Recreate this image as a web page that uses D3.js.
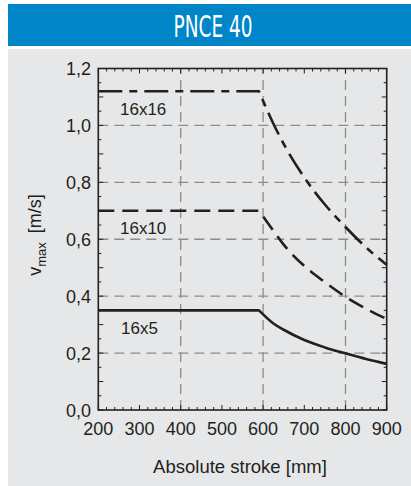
<!DOCTYPE html>
<html><head><meta charset="utf-8">
<script src="https://cdn.jsdelivr.net/npm/d3@7"></script>
<style>html,body{margin:0;padding:0;background:#fff;}svg{display:block;}</style>
</head><body>
<script>
const title = "PNCE 40";
const xLabel = "Absolute stroke [mm]";
const strokes = [200, 590, 625, 650, 700, 750, 800, 850, 900];
const v16x16 = [1.12, 1.12, 1.006, 0.935, 0.817, 0.722, 0.643, 0.571, 0.510];
const v16x10 = [0.70, 0.70, 0.630, 0.581, 0.506, 0.449, 0.398, 0.356, 0.320];
const v16x5  = [0.35, 0.35, 0.304, 0.282, 0.246, 0.220, 0.199, 0.179, 0.162];
const seriesNames = ["16x16", "16x10", "16x5"];
const xTicks = [200, 300, 400, 500, 600, 700, 800, 900];
const yTicks = [0, 0.2, 0.4, 0.6, 0.8, 1.0, 1.2];
const xGrid = [400, 600, 800];
const yGrid = [0.2, 0.4, 0.6, 0.8, 1.0];

const W = 411, H = 486;
const svg = d3.select("body").append("svg").attr("width", W).attr("height", H);
const ink = "#231f20";

svg.append("rect").attr("x", 8).attr("y", 4).attr("width", W - 8).attr("height", 42).attr("fill", "#0085c8");
svg.append("rect").attr("x", 8).attr("y", 49).attr("width", W - 8).attr("height", H - 49).attr("fill", "#e6e7e8");
svg.append("text").attr("x", 213).attr("y", 37).attr("text-anchor", "middle")
  .attr("fill", "#fff").attr("font-family", "'Liberation Sans Narrow','DejaVu Sans Condensed',sans-serif")
  .attr("font-stretch", "condensed").attr("font-size", 30)
  .attr("textLength", 79).attr("lengthAdjust", "spacingAndGlyphs").text(title);

const x = d3.scaleLinear().domain([200, 900]).range([98.3, 386.7]);
const y = d3.scaleLinear().domain([0, 1.2]).range([410, 68.5]);

const g = svg.append("g");
// grid
g.selectAll(".gx").data(xGrid).join("line")
  .attr("x1", d => x(d)).attr("x2", d => x(d)).attr("y1", y(0)).attr("y2", y(1.2))
  .attr("stroke", "#8c8c8c").attr("stroke-width", 1.3).attr("stroke-dasharray", "10,6");
g.selectAll(".gy").data(yGrid).join("line")
  .attr("y1", d => y(d)).attr("y2", d => y(d)).attr("x1", x(200)).attr("x2", x(900))
  .attr("stroke", "#8c8c8c").attr("stroke-width", 1.3).attr("stroke-dasharray", "10,6");

// minor/major ticks inside
const xMinor = d3.range(200, 901, 20);
const yMinor = d3.range(0, 1.2001, 0.05);
function tickLen(isMajor) { return isMajor ? 5 : 3; }
xMinor.forEach(v => {
  const major = Math.abs(v % 100) < 1e-6;
  const L = tickLen(major);
  g.append("line").attr("x1", x(v)).attr("x2", x(v)).attr("y1", y(0)).attr("y2", y(0) - L).attr("stroke", ink).attr("stroke-width", 1);
  g.append("line").attr("x1", x(v)).attr("x2", x(v)).attr("y1", y(1.2)).attr("y2", y(1.2) + L).attr("stroke", ink).attr("stroke-width", 1);
});
yMinor.forEach(v => {
  const major = Math.abs(Math.round(v * 10) - v * 10) < 1e-6;
  const L = tickLen(major);
  g.append("line").attr("y1", y(v)).attr("y2", y(v)).attr("x1", x(200)).attr("x2", x(200) + L).attr("stroke", ink).attr("stroke-width", 1);
  g.append("line").attr("y1", y(v)).attr("y2", y(v)).attr("x1", x(900)).attr("x2", x(900) - L).attr("stroke", ink).attr("stroke-width", 1);
});

// frame
g.append("rect").attr("x", x(200)).attr("y", y(1.2)).attr("width", x(900) - x(200)).attr("height", y(0) - y(1.2))
  .attr("fill", "none").attr("stroke", ink).attr("stroke-width", 1.6);

// tick labels
const fmt = d => d.toFixed(1).replace(".", ",");
g.selectAll(".xl").data(xTicks).join("text")
  .attr("x", d => x(d)).attr("y", 435).attr("text-anchor", "middle")
  .attr("font-family", "'Liberation Sans',Arial,sans-serif").attr("font-size", 18).attr("fill", ink).text(d => d);
g.selectAll(".yl").data(yTicks).join("text")
  .attr("x", 91).attr("y", d => y(d) + 6.5).attr("text-anchor", "end")
  .attr("font-family", "'Liberation Sans',Arial,sans-serif").attr("font-size", 18).attr("fill", ink).text(fmt);

// axis titles
svg.append("text").attr("x", 240).attr("y", 473).attr("text-anchor", "middle")
  .attr("font-family", "'Liberation Sans',Arial,sans-serif").attr("font-size", 18.5).attr("fill", ink).text(xLabel);
const yt = svg.append("text").attr("transform", "translate(41,235) rotate(-90)").attr("text-anchor", "middle")
  .attr("font-family", "'Liberation Sans',Arial,sans-serif").attr("font-size", 18).attr("fill", ink);
yt.append("tspan").text("v");
yt.append("tspan").attr("font-size", 13).attr("dy", 5).text("max");
yt.append("tspan").attr("dy", -5).text("\u2002[m/s]");

// curves: straight plateau, then smooth monotone decay from the corner
const curveLine = d3.line().x(d => x(d[0])).y(d => y(d[1])).curve(d3.curveMonotoneX);
function seriesPath(vals) {
  const pts = strokes.map((s, i) => [s, vals[i]]);
  const tail = curveLine(pts.slice(1));
  return "M" + x(pts[0][0]) + "," + y(pts[0][1]) + "L" + tail.slice(1);
}
const series = [
  { name: seriesNames[0], vals: v16x16, dash: "24,7,8,7", lx: 120, ly: 115 },
  { name: seriesNames[1], vals: v16x10, dash: "16,8", lx: 120, ly: 234 },
  { name: seriesNames[2], vals: v16x5, dash: null, lx: 121, ly: 334 }
];
series.forEach(s => {
  const p = g.append("path").attr("d", seriesPath(s.vals)).attr("fill", "none")
    .attr("stroke", ink).attr("stroke-width", 2.6).attr("stroke-linejoin", "round");
  if (s.dash) p.attr("stroke-dasharray", s.dash);
  g.append("text").attr("x", s.lx).attr("y", s.ly)
    .attr("font-family", "'Liberation Sans',Arial,sans-serif").attr("font-size", 17).attr("fill", ink).text(s.name);
});
</script>
</body></html>
